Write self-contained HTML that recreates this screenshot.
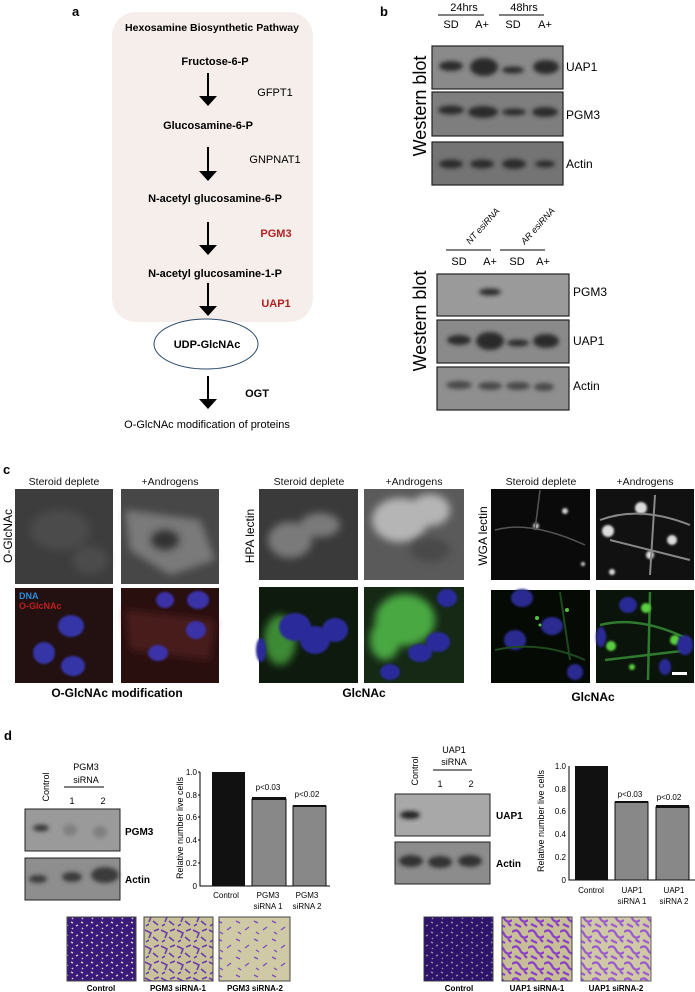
<!DOCTYPE html>
<html><head><meta charset="utf-8"><style>
html,body{margin:0;padding:0;background:#fff;}
svg{display:block;font-family:"Liberation Sans",Arial,sans-serif;}
</style></head><body>
<svg width="695" height="992" viewBox="0 0 695 992" xmlns="http://www.w3.org/2000/svg">
<defs>
<filter id="bl" x="-50%" y="-50%" width="200%" height="200%"><feGaussianBlur stdDeviation="2.2"/></filter>
<filter id="bl2" x="-50%" y="-50%" width="200%" height="200%"><feGaussianBlur stdDeviation="4"/></filter>
<filter id="bl1" x="-50%" y="-50%" width="200%" height="200%"><feGaussianBlur stdDeviation="1"/></filter>
<pattern id="pd" width="10" height="10" patternUnits="userSpaceOnUse"><rect width="10" height="10" fill="#3a1a7a"/><path d="M1,2 L3,3 M6,6 L8,5 M2,8 L3,9" stroke="#d9d4c0" stroke-width="1.5"/></pattern>
<pattern id="pm" width="16" height="16" patternUnits="userSpaceOnUse"><rect width="16" height="16" fill="#c9c29a"/><path d="M1,2 L7,5 L5,10 M10,3 L15,1 M9,9 L14,13 M2,14 L5,12" stroke="#6a3bb0" stroke-width="1.6" fill="none"/></pattern>
<pattern id="ps" width="18" height="18" patternUnits="userSpaceOnUse"><rect width="18" height="18" fill="#cfc9a6"/><path d="M2,3 L6,5 M11,12 L15,9 M4,14 L7,16" stroke="#7a4cc0" stroke-width="1.3" fill="none"/></pattern>
<pattern id="pu" width="16" height="16" patternUnits="userSpaceOnUse"><rect width="16" height="16" fill="#c8bf98"/><path d="M0,4 Q5,0 8,6 T16,8 M3,12 L9,15 M12,11 L15,14" stroke="#8a3fc8" stroke-width="2.2" fill="none"/></pattern>
</defs>

<!-- Panel a -->
<text x="72" y="16" font-size="13" font-weight="bold">a</text>
<rect x="112" y="12" width="201" height="310" rx="24" fill="#f6eeeb"/>
<text x="212" y="31" font-size="10" font-weight="bold" text-anchor="middle" textLength="174" lengthAdjust="spacingAndGlyphs">Hexosamine Biosynthetic Pathway</text>
<g font-size="11" font-weight="bold" text-anchor="middle">
<text x="215" y="65">Fructose-6-P</text>
<text x="208" y="129">Glucosamine-6-P</text>
<text x="215" y="202">N-acetyl glucosamine-6-P</text>
<text x="215" y="277">N-acetyl glucosamine-1-P</text>
<text x="257" y="397">OGT</text>
</g>
<g font-size="11" text-anchor="middle">
<text x="275" y="96">GFPT1</text>
<text x="275" y="163">GNPNAT1</text>
<text x="207" y="428">O-GlcNAc modification of proteins</text>
</g>
<g font-size="11" font-weight="bold" fill="#b22222" text-anchor="middle">
<text x="276" y="237">PGM3</text>
<text x="276" y="307">UAP1</text>
</g>
<g stroke="#000" stroke-width="2">
<line x1="208" y1="73" x2="208" y2="97"/><line x1="208" y1="147" x2="208" y2="172"/>
<line x1="208" y1="222" x2="208" y2="246"/><line x1="208" y1="283" x2="208" y2="307"/>
<line x1="208" y1="376" x2="208" y2="400"/>
</g>
<g fill="#000">
<path d="M199,96 L217,96 L208,106 z"/><path d="M199,171 L217,171 L208,181 z"/>
<path d="M199,245 L217,245 L208,255 z"/><path d="M199,306 L217,306 L208,316 z"/>
<path d="M199,399 L217,399 L208,409 z"/>
</g>
<ellipse cx="206" cy="344" rx="52" ry="25" fill="#fff" stroke="#2b4a6a" stroke-width="1"/>
<text x="207" y="348" font-size="11" font-weight="bold" text-anchor="middle">UDP-GlcNAc</text>

<!-- Panel b -->
<text x="380" y="16" font-size="13" font-weight="bold">b</text>
<g font-size="11" text-anchor="middle">
<text x="464" y="11">24hrs</text><text x="524" y="11">48hrs</text>
<text x="451" y="28">SD</text><text x="482" y="28">A+</text><text x="513" y="28">SD</text><text x="545" y="28">A+</text>
</g>
<line x1="438" y1="15" x2="484" y2="15" stroke="#000"/><line x1="499" y1="15" x2="544" y2="15" stroke="#000"/>
<text transform="translate(426,106) rotate(-90)" font-size="18" text-anchor="middle">Western blot</text>
<g stroke="#222" stroke-width="1.2">
<rect x="432" y="46" width="131" height="43" fill="#8a8a8a"/>
<rect x="432" y="92" width="131" height="44" fill="#7e7e7e"/>
<rect x="432" y="142" width="131" height="43" fill="#747474"/>
</g>
<g filter="url(#bl)" fill="#2a2a2a">
<ellipse cx="451" cy="66" rx="12" ry="5"/><ellipse cx="484" cy="67" rx="14" ry="9"/><ellipse cx="513" cy="70" rx="11" ry="3.5"/><ellipse cx="546" cy="67" rx="13" ry="7"/>
<ellipse cx="451" cy="110" rx="13" ry="4.5"/><ellipse cx="483" cy="112" rx="15" ry="6"/><ellipse cx="514" cy="112" rx="12" ry="3.5"/><ellipse cx="545" cy="112" rx="13" ry="5"/>
<ellipse cx="451" cy="164" rx="12" ry="4.5"/><ellipse cx="482" cy="164" rx="12" ry="4.5"/><ellipse cx="514" cy="164" rx="12" ry="5"/><ellipse cx="545" cy="164" rx="10" ry="3.5"/>
</g>
<g font-size="12"><text x="566" y="71">UAP1</text><text x="566" y="119">PGM3</text><text x="566" y="168">Actin</text></g>

<g font-size="9" font-style="italic" text-anchor="middle">
<text transform="translate(485,228) rotate(-48)">NT esiRNA</text>
<text transform="translate(540,228) rotate(-48)">AR esiRNA</text>
</g>
<line x1="446" y1="250" x2="491" y2="250" stroke="#000"/><line x1="500" y1="250" x2="545" y2="250" stroke="#000"/>
<g font-size="11" text-anchor="middle"><text x="459" y="265">SD</text><text x="490" y="265">A+</text><text x="517" y="265">SD</text><text x="543" y="265">A+</text></g>
<text transform="translate(426,321) rotate(-90)" font-size="18" text-anchor="middle">Western blot</text>
<g stroke="#222" stroke-width="1.2">
<rect x="437" y="274" width="132" height="42" fill="#9a9a9a"/>
<rect x="437" y="320" width="132" height="43" fill="#8a8a8a"/>
<rect x="437" y="367" width="132" height="43" fill="#8f8f8f"/>
</g>
<g filter="url(#bl)" fill="#2a2a2a">
<ellipse cx="490" cy="292" rx="11" ry="3.5"/>
<ellipse cx="459" cy="340" rx="12" ry="5"/><ellipse cx="490" cy="341" rx="14" ry="9"/><ellipse cx="518" cy="343" rx="11" ry="3.5"/><ellipse cx="546" cy="341" rx="13" ry="7"/>
</g>
<g filter="url(#bl)" fill="#4a4a4a">
<ellipse cx="459" cy="385" rx="13" ry="4"/><ellipse cx="490" cy="386" rx="12" ry="4"/><ellipse cx="518" cy="386" rx="12" ry="4"/><ellipse cx="544" cy="387" rx="10" ry="4"/>
</g>
<g font-size="12"><text x="573" y="296">PGM3</text><text x="573" y="345">UAP1</text><text x="573" y="390">Actin</text></g>

<!-- Panel c -->
<text x="3" y="474" font-size="13" font-weight="bold">c</text>
<g font-size="10.5" text-anchor="middle" fill="#111">
<text x="64" y="485">Steroid deplete</text><text x="170" y="485">+Androgens</text>
<text x="309" y="485">Steroid deplete</text><text x="414" y="485">+Androgens</text>
<text x="541" y="485">Steroid deplete</text><text x="645" y="485">+Androgens</text>
</g>
<g font-size="12" text-anchor="middle">
<text transform="translate(12,536) rotate(-90)">O-GlcNAc</text>
<text transform="translate(254,536) rotate(-90)">HPA lectin</text>
<text transform="translate(487,536) rotate(-90)">WGA lectin</text>
</g>
<!-- row 1 -->
<rect x="15" y="489" width="98" height="95" fill="#3d3d3d"/>
<g filter="url(#bl2)" fill="#4c4c4c"><ellipse cx="60" cy="530" rx="30" ry="20"/><ellipse cx="90" cy="560" rx="18" ry="14"/></g>
<rect x="121" y="489" width="98" height="95" fill="#474747"/>
<g filter="url(#bl2)" fill="#7a7a7a"><path d="M125,510 L200,520 L215,560 L170,575 L130,550 z"/></g>
<g filter="url(#bl2)" fill="#333"><ellipse cx="165" cy="540" rx="14" ry="10"/></g>
<rect x="259" y="489" width="99" height="91" fill="#3a3a3a"/>
<g filter="url(#bl2)" fill="#7a7a7a"><ellipse cx="290" cy="540" rx="22" ry="18"/><ellipse cx="320" cy="525" rx="20" ry="12"/></g>
<rect x="364" y="489" width="100" height="91" fill="#5a5a5a"/>
<g filter="url(#bl2)" fill="#b5b5b5"><ellipse cx="400" cy="520" rx="28" ry="22"/><ellipse cx="430" cy="510" rx="20" ry="16"/></g>
<g filter="url(#bl2)" fill="#4a4a4a"><ellipse cx="430" cy="550" rx="20" ry="12"/></g>
<rect x="491" y="489" width="99" height="91" fill="#0a0a0a"/>
<g filter="url(#bl1)" fill="#cfcfcf"><circle cx="565" cy="511" r="3"/><circle cx="536" cy="526" r="3"/><circle cx="583" cy="564" r="2"/></g>
<path d="M495,530 Q530,520 585,545 M540,490 L535,530" stroke="#555" stroke-width="1.5" fill="none"/>
<rect x="596" y="489" width="98" height="91" fill="#111"/>
<g filter="url(#bl1)" fill="#dcdcdc"><circle cx="641" cy="508" r="6"/><circle cx="608" cy="531" r="6"/><circle cx="672" cy="540" r="5"/><circle cx="650" cy="555" r="4"/><circle cx="612" cy="572" r="3"/></g>
<path d="M600,520 Q640,505 690,525 M655,495 L650,575 M610,540 L690,560" stroke="#888" stroke-width="2" fill="none"/>
<!-- row 2 -->
<rect x="15" y="588" width="98" height="95" fill="#231010"/>
<g filter="url(#bl1)" fill="#3535a8"><ellipse cx="71" cy="626" rx="13" ry="11"/><ellipse cx="44" cy="653" rx="11" ry="11"/><ellipse cx="73" cy="666" rx="12" ry="10"/></g>
<text x="19" y="599" font-size="9" font-weight="bold" fill="#2a8ad8">DNA</text>
<text x="19" y="609" font-size="9" font-weight="bold" fill="#c02020">O-GlcNAc</text>
<rect x="121" y="588" width="98" height="95" fill="#2a0f0f"/>
<g filter="url(#bl2)" fill="#4a1a1a"><path d="M125,610 L215,620 L210,660 L130,650 z"/></g>
<g filter="url(#bl1)" fill="#3a32a8"><ellipse cx="198" cy="600" rx="11" ry="9"/><ellipse cx="165" cy="600" rx="9" ry="8"/><ellipse cx="196" cy="630" rx="10" ry="9"/><ellipse cx="158" cy="653" rx="10" ry="8"/></g>
<rect x="259" y="587" width="99" height="96" fill="#0e1a0e"/>
<g filter="url(#bl2)" fill="#3d8a35"><ellipse cx="280" cy="640" rx="16" ry="25"/></g>
<g filter="url(#bl1)" fill="#2a2a9a"><ellipse cx="295" cy="627" rx="16" ry="14"/><ellipse cx="315" cy="640" rx="15" ry="14"/><ellipse cx="335" cy="630" rx="13" ry="12"/><ellipse cx="261" cy="650" rx="5" ry="12"/></g>
<rect x="364" y="587" width="100" height="96" fill="#152915"/>
<g filter="url(#bl2)" fill="#4aa842"><ellipse cx="405" cy="620" rx="30" ry="26"/><ellipse cx="385" cy="640" rx="15" ry="20"/></g>
<g filter="url(#bl1)" fill="#2a2a9a"><ellipse cx="447" cy="598" rx="10" ry="9"/><ellipse cx="438" cy="642" rx="12" ry="10"/><ellipse cx="420" cy="653" rx="12" ry="9"/><ellipse cx="390" cy="672" rx="10" ry="8"/></g>
<rect x="491" y="590" width="99" height="93" fill="#050a05"/>
<g filter="url(#bl1)" fill="#2c2c90"><ellipse cx="522" cy="598" rx="11" ry="9"/><ellipse cx="552" cy="626" rx="11" ry="9"/><ellipse cx="515" cy="640" rx="11" ry="10"/><ellipse cx="575" cy="672" rx="8" ry="8"/></g>
<g fill="#59c040"><circle cx="537" cy="618" r="2"/><circle cx="567" cy="610" r="2"/><circle cx="540" cy="625" r="1.5"/></g>
<path d="M495,650 Q540,640 585,660 M560,592 L570,660" stroke="#1f4a1f" stroke-width="2" fill="none"/>
<rect x="596" y="590" width="98" height="93" fill="#0a140a"/>
<path d="M600,625 Q640,615 690,640 M650,592 L648,680 M605,660 L690,650" stroke="#2f7a2f" stroke-width="2.5" fill="none"/>
<g filter="url(#bl1)" fill="#5ad040"><circle cx="646" cy="608" r="5"/><circle cx="611" cy="646" r="5"/><circle cx="675" cy="640" r="5"/><circle cx="632" cy="667" r="3"/></g>
<g filter="url(#bl1)" fill="#2c2c96"><ellipse cx="628" cy="605" rx="9" ry="8"/><ellipse cx="601" cy="637" rx="5" ry="10"/><ellipse cx="685" cy="645" rx="8" ry="10"/><ellipse cx="665" cy="667" rx="6" ry="8"/></g>
<rect x="672" y="672" width="15" height="3" fill="#fff"/>
<g font-size="12" font-weight="bold" text-anchor="middle">
<text x="117" y="697">O-GlcNAc modification</text>
<text x="364" y="697">GlcNAc</text>
<text x="593" y="701">GlcNAc</text>
</g>

<!-- Panel d -->
<text x="4" y="740" font-size="13" font-weight="bold">d</text>
<g font-size="9" text-anchor="middle">
<text transform="translate(49,787) rotate(-90)">Control</text>
<text x="86" y="770">PGM3</text><text x="86" y="783">siRNA</text>
<text x="72" y="804">1</text><text x="103" y="804">2</text>
</g>
<line x1="64" y1="787" x2="104" y2="787" stroke="#000"/>
<rect x="25" y="809" width="95" height="42" fill="#9a9a9a" stroke="#222"/>
<rect x="25" y="858" width="95" height="42" fill="#8e8e8e" stroke="#222"/>
<g filter="url(#bl)" fill="#3a3a3a"><ellipse cx="41" cy="828" rx="8" ry="3.5"/><ellipse cx="38" cy="879" rx="9" ry="4"/><ellipse cx="72" cy="877" rx="10" ry="5"/><ellipse cx="105" cy="875" rx="14" ry="8"/></g>
<g filter="url(#bl)" fill="#808080"><ellipse cx="70" cy="830" rx="7" ry="6"/><ellipse cx="100" cy="832" rx="7" ry="6"/></g>
<g font-size="10" font-weight="bold"><text x="125" y="835">PGM3</text><text x="125" y="883">Actin</text></g>

<!-- left chart -->
<text transform="translate(183,828) rotate(-90)" font-size="9" text-anchor="middle">Relative number live cells</text>
<g font-size="8" text-anchor="end">
<text x="197" y="775">1.0</text><text x="197" y="798">0.8</text><text x="197" y="820">0.6</text><text x="197" y="843">0.4</text><text x="197" y="866">0.2</text><text x="197" y="889">0</text>
</g>
<path d="M200,772 L200,886 L330,886" stroke="#000" fill="none"/>
<g stroke="#000"><line x1="198" y1="772" x2="200" y2="772"/><line x1="198" y1="795" x2="200" y2="795"/><line x1="198" y1="817" x2="200" y2="817"/><line x1="198" y1="840" x2="200" y2="840"/><line x1="198" y1="863" x2="200" y2="863"/></g>
<rect x="212" y="772" width="33" height="114" fill="#111"/>
<rect x="252" y="799" width="34" height="87" fill="#888" stroke="#111"/>
<rect x="293" y="806" width="33" height="80" fill="#888" stroke="#111"/>
<rect x="252" y="797" width="34" height="3" fill="#111"/><rect x="293" y="805" width="33" height="2" fill="#111"/>
<g font-size="8" text-anchor="middle">
<text x="268" y="790">p&lt;0.03</text><text x="307" y="797">p&lt;0.02</text>
<text x="226" y="898">Control</text><text x="268" y="898">PGM3</text><text x="268" y="909">siRNA 1</text><text x="307" y="898">PGM3</text><text x="307" y="909">siRNA 2</text>
</g>
<rect x="67" y="917" width="69" height="64" fill="url(#pd)" stroke="#444"/>
<rect x="144" y="917" width="69" height="64" fill="url(#pm)" stroke="#444"/>
<rect x="219" y="917" width="71" height="64" fill="url(#ps)" stroke="#444"/>
<g font-size="8" font-weight="bold" text-anchor="middle"><text x="101" y="991">Control</text><text x="178" y="991">PGM3 siRNA-1</text><text x="255" y="991">PGM3 siRNA-2</text></g>

<!-- right blot -->
<g font-size="9" text-anchor="middle">
<text transform="translate(418,771) rotate(-90)">Control</text>
<text x="454" y="753">UAP1</text><text x="454" y="765">siRNA</text>
<text x="440" y="787">1</text><text x="471" y="787">2</text>
</g>
<line x1="433" y1="770" x2="472" y2="770" stroke="#000"/>
<rect x="395" y="794" width="95" height="42" fill="#a8a8a8" stroke="#222"/>
<rect x="395" y="842" width="95" height="42" fill="#8c8c8c" stroke="#222"/>
<g filter="url(#bl)" fill="#222"><ellipse cx="410" cy="815" rx="10" ry="4"/></g>
<g filter="url(#bl)" fill="#333"><ellipse cx="411" cy="861" rx="12" ry="6"/><ellipse cx="440" cy="862" rx="12" ry="6"/><ellipse cx="470" cy="861" rx="12" ry="6"/></g>
<g font-size="10" font-weight="bold"><text x="496" y="819">UAP1</text><text x="496" y="867">Actin</text></g>

<!-- right chart -->
<text transform="translate(544,821) rotate(-90)" font-size="9" text-anchor="middle">Relative number live cells</text>
<g font-size="8" text-anchor="end">
<text x="566" y="769">1.0</text><text x="566" y="792">0.8</text><text x="566" y="814">0.6</text><text x="566" y="837">0.4</text><text x="566" y="860">0.2</text><text x="566" y="883">0</text>
</g>
<path d="M569,766 L569,880 L695,880" stroke="#000" fill="none"/>
<rect x="575" y="766" width="33" height="114" fill="#111"/>
<rect x="615" y="802" width="33" height="78" fill="#888" stroke="#111"/>
<rect x="656" y="807" width="33" height="73" fill="#888" stroke="#111"/>
<rect x="615" y="801" width="33" height="2" fill="#111"/><rect x="656" y="805" width="33" height="3" fill="#111"/>
<g font-size="8" text-anchor="middle">
<text x="630" y="797">p&lt;0.03</text><text x="669" y="800">p&lt;0.02</text>
<text x="591" y="893">Control</text><text x="632" y="893">UAP1</text><text x="632" y="904">siRNA 1</text><text x="674" y="893">UAP1</text><text x="674" y="904">siRNA 2</text>
</g>
<rect x="424" y="917" width="69" height="64" fill="url(#pd)" stroke="#444"/>
<rect x="424" y="917" width="69" height="64" fill="#1a0a50" opacity="0.35"/>
<rect x="502" y="917" width="70" height="64" fill="url(#pu)" stroke="#444"/>
<rect x="581" y="917" width="70" height="64" fill="url(#pu)" stroke="#444" opacity="0.85"/>
<g font-size="8" font-weight="bold" text-anchor="middle"><text x="459" y="991">Control</text><text x="537" y="991">UAP1 siRNA-1</text><text x="616" y="991">UAP1 siRNA-2</text></g>
</svg>
</body></html>
